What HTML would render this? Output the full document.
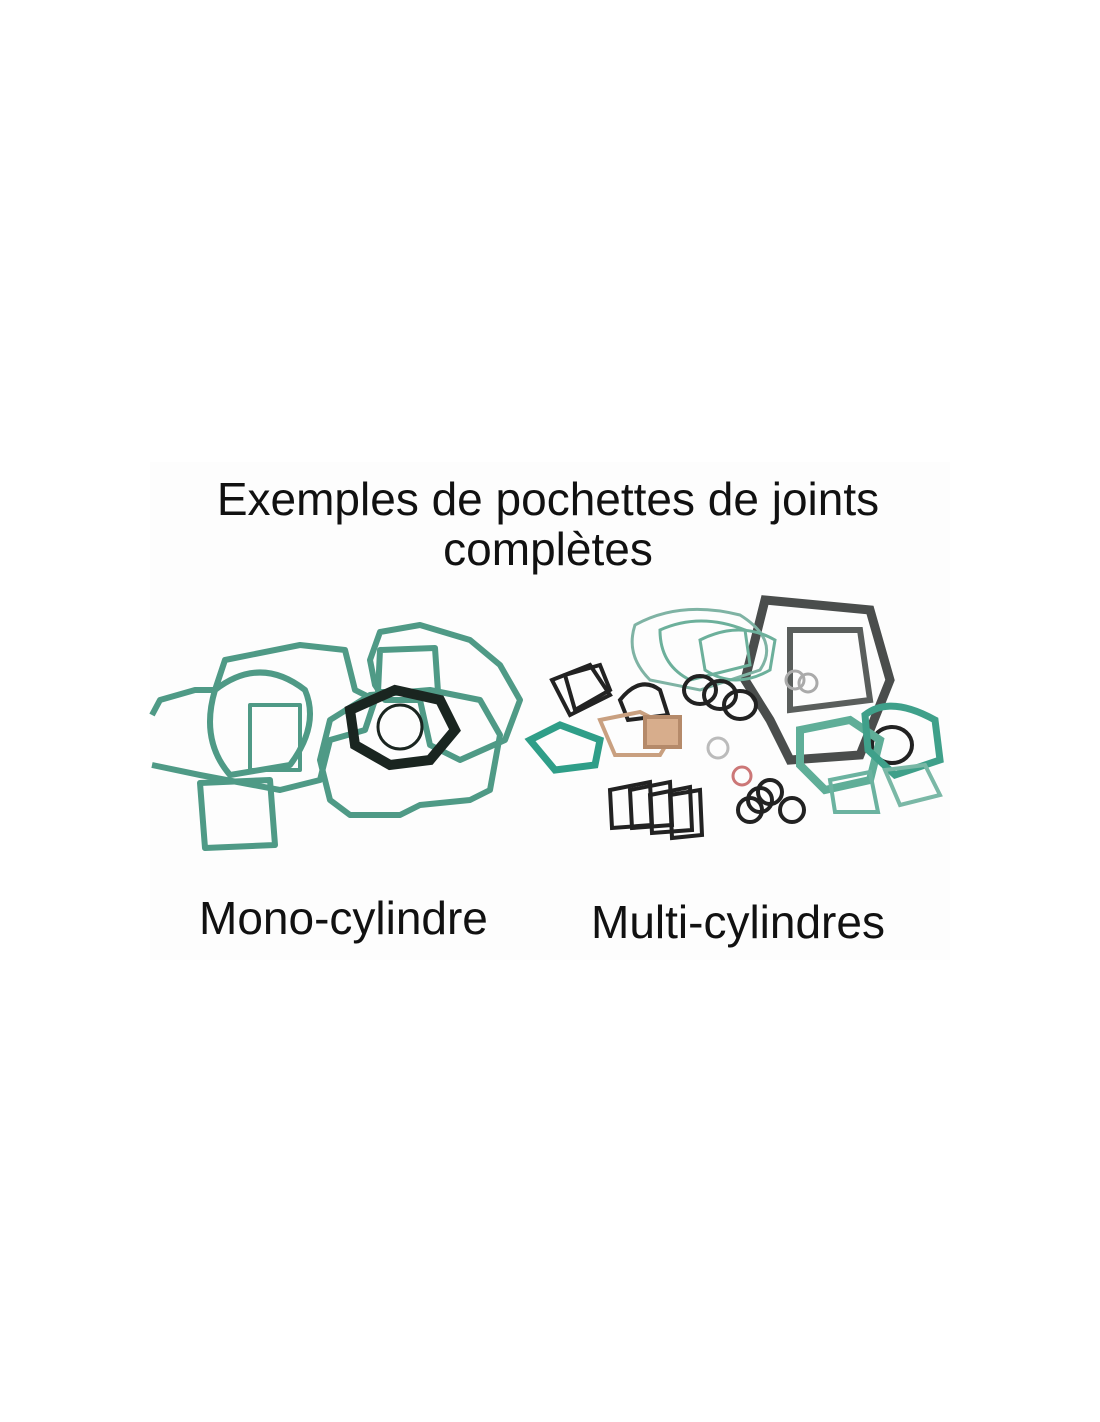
<!DOCTYPE html>
<html><head><meta charset="utf-8"><style>
html,body{margin:0;padding:0;background:#fff;width:1100px;height:1422px;overflow:hidden}
.t{position:absolute;font-family:"Liberation Sans",sans-serif;color:#111;white-space:nowrap}
</style></head><body>
<div style="position:absolute;left:150px;top:462px;width:800px;height:498px;background:#fdfdfd"></div>
<div class="t" style="left:0;width:1096px;text-align:center;top:474px;font-size:46px;line-height:50px">Exemples de pochettes de joints<br>complètes</div>
<div class="t" style="left:199px;top:891px;font-size:46px">Mono-cylindre</div>
<div class="t" style="left:591px;top:895px;font-size:46px">Multi-cylindres</div>
<svg style="position:absolute;left:0;top:0" width="1100" height="1422">
<g fill="none" stroke="#4f9a86" stroke-width="6" stroke-linejoin="round">
<path d="M152 715 L160 700 L195 690 L215 690 L225 660 L300 645 L345 650 L355 690 L375 700 L365 730 L330 740 L320 780 L280 790 L200 775 L152 765"/>
<path d="M215 690 Q260 655 305 690 Q320 725 290 765 L230 775 Q200 740 215 690"/>
<path d="M370 660 L380 632 L420 625 L470 640 L500 665 L520 700 L505 740 L460 760 L430 745 L420 700 L385 700 L375 685Z"/>
<path d="M380 650 L435 648 L438 692 L378 692Z"/>
<path d="M330 720 L370 695 L430 690 L480 700 L500 735 L490 790 L470 800 L420 805 L400 815 L350 815 L330 800 L320 760Z"/>
<path d="M200 783 L270 780 L275 845 L205 848Z"/>
<path d="M250 705 L300 705 L300 770 L250 770Z" stroke-width="4"/>
</g>
<path d="M350 710 L395 690 L440 700 L455 730 L430 760 L390 765 L355 745Z" fill="none" stroke="#1a2520" stroke-width="10"/>
<circle cx="400" cy="727" r="22" fill="none" stroke="#1a2520" stroke-width="3"/>
<g fill="none" stroke-width="4">
<path d="M765 600 L870 610 L890 680 L860 755 L790 760 L770 720 L745 680Z" stroke="#4a4d4c" stroke-width="9"/>
<path d="M790 630 L860 630 L870 700 L790 710Z" stroke="#5a5e5c" stroke-width="6"/>
<path d="M635 625 Q680 600 740 615 Q780 640 760 670 L700 690 L650 680 Q625 655 635 625Z" stroke="#7fb3a4" stroke-width="3"/>
<path d="M660 630 Q700 612 745 630 L750 665 L690 680 Q660 665 660 630Z" stroke="#6cb09b" stroke-width="3"/>
<path d="M700 640 Q740 620 775 640 L770 670 Q735 690 705 670Z" stroke="#6cb09b" stroke-width="3"/>
<g stroke="#222"><path d="M552 680 L590 665 L610 695 L570 715Z"/><path d="M565 675 L600 665 L610 690 L575 710Z"/>
<path d="M620 700 Q640 675 660 690 L668 715 L628 720Z"/>
<ellipse cx="700" cy="690" rx="16" ry="14"/><ellipse cx="720" cy="695" rx="16" ry="14"/><ellipse cx="740" cy="705" rx="16" ry="14"/>
<ellipse cx="892" cy="745" rx="20" ry="18"/>
<path d="M610 790 L650 782 L652 825 L612 828Z"/><path d="M630 790 L670 782 L672 825 L632 828Z"/><path d="M650 795 L690 787 L692 830 L652 833Z"/><path d="M670 795 L700 790 L702 835 L672 838Z"/>
<circle cx="750" cy="810" r="12"/><circle cx="760" cy="800" r="12"/><circle cx="770" cy="792" r="12"/><circle cx="792" cy="810" r="12"/>
</g>
<path d="M530 740 L560 725 L600 740 L595 765 L555 770Z" stroke="#2f9e88" stroke-width="7"/>
<path d="M800 730 L850 720 L880 740 L870 780 L825 790 L800 765Z" stroke="#5fae98" stroke-width="8"/>
<path d="M865 715 Q890 695 935 720 L940 760 L895 775 L868 750Z" stroke="#3fa08a" stroke-width="7"/>
<path d="M830 780 L870 772 L878 812 L835 812Z" stroke="#6bb3a0" stroke-width="4"/>
<path d="M885 770 L925 765 L940 795 L900 805Z" stroke="#7ab8a6" stroke-width="4"/>
<path d="M600 720 L640 712 L675 730 L660 755 L615 755Z" stroke="#c9a080" stroke-width="4"/>
<rect x="645" y="717" width="35" height="30" fill="#d7ad8c" stroke="#b58a6a"/>
<circle cx="718" cy="748" r="10" stroke="#bbb" stroke-width="3"/><circle cx="742" cy="776" r="9" stroke="#c77" stroke-width="3"/>
<circle cx="795" cy="680" r="9" stroke="#aaa" stroke-width="3"/><circle cx="808" cy="683" r="9" stroke="#aaa" stroke-width="3"/>
</g>
</svg>
</body></html>
